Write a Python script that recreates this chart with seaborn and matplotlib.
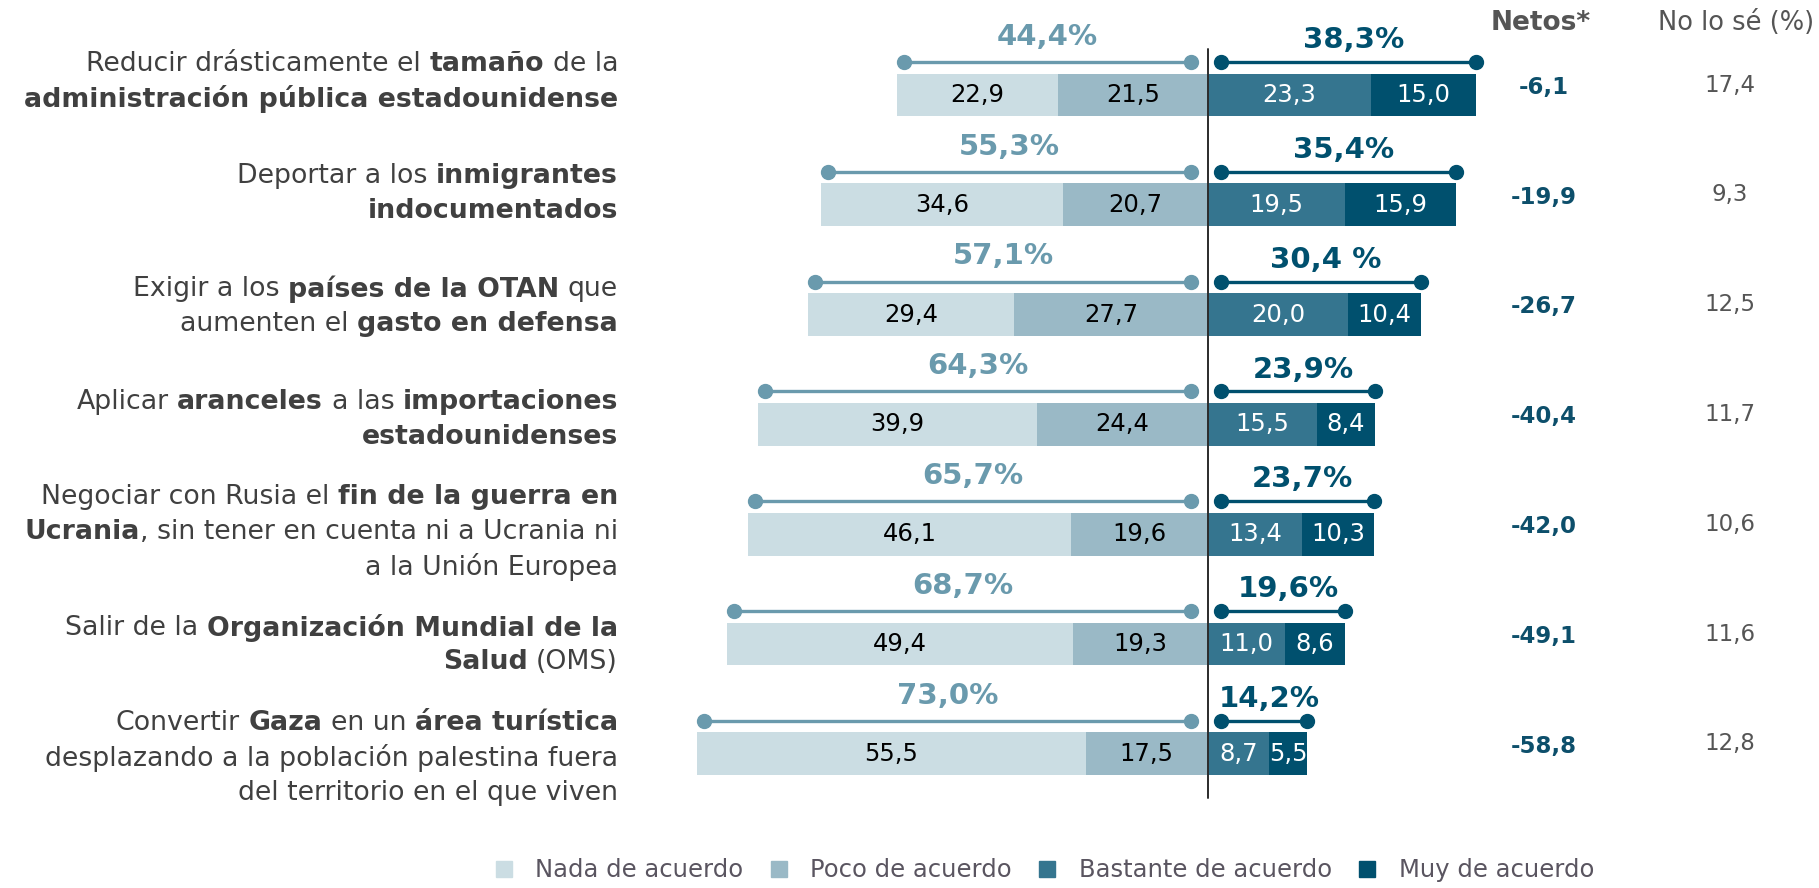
import matplotlib
matplotlib.use("Agg")
import matplotlib.pyplot as plt
import matplotlib.transforms as mtransforms
from matplotlib.lines import Line2D
import seaborn as sns
import pandas as pd

# data
claves = ["r0", "r1", "r2", "r3", "r4", "r5", "r6"]
nada = [22.9, 34.6, 29.4, 39.9, 46.1, 49.4, 55.5]
poco = [21.5, 20.7, 27.7, 24.4, 19.6, 19.3, 17.5]
bastante = [23.3, 19.5, 20.0, 15.5, 13.4, 11.0, 8.7]
muy = [15.0, 15.9, 10.4, 8.4, 10.3, 8.6, 5.5]
netos = [-6.1, -19.9, -26.7, -40.4, -42.0, -49.1, -58.8]
no_lo_se = [17.4, 9.3, 12.5, 11.7, 10.6, 11.6, 12.8]
desacuerdo_txt = ["44,4%", "55,3%", "57,1%", "64,3%", "65,7%", "68,7%", "73,0%"]
acuerdo_txt = ["38,3%", "35,4%", "30,4 %", "23,9%", "23,7%", "19,6%", "14,2%"]
leyenda = ["Nada de acuerdo", "Poco de acuerdo", "Bastante de acuerdo", "Muy de acuerdo"]

# (text, bold) pieces per line
etiquetas = [
    [[("Reducir drásticamente el ", 0), ("tamaño", 1), (" de la", 0)],
     [("administración pública estadounidense", 1)]],
    [[("Deportar a los ", 0), ("inmigrantes", 1)],
     [("indocumentados", 1)]],
    [[("Exigir a los ", 0), ("países de la OTAN", 1), (" que", 0)],
     [("aumenten el ", 0), ("gasto en defensa", 1)]],
    [[("Aplicar ", 0), ("aranceles", 1), (" a las ", 0), ("importaciones", 1)],
     [("estadounidenses", 1)]],
    [[("Negociar con Rusia el ", 0), ("fin de la guerra en", 1)],
     [("Ucrania", 1), (", sin tener en cuenta ni a Ucrania ni", 0)],
     [("a la Unión Europea", 0)]],
    [[("Salir de la ", 0), ("Organización Mundial de la", 1)],
     [("Salud", 1), (" (OMS)", 0)]],
    [[("Convertir ", 0), ("Gaza", 1), (" en un ", 0), ("área turística", 1)],
     [("desplazando a la población palestina fuera", 0)],
     [("del territorio en el que viven", 0)]],
]

c_nada = "#cbdde3"
c_poco = "#9ab9c6"
c_bast = "#35758f"
c_muy = "#00506e"
c_izq = "#6a9aad"
c_txt = "#404040"

df = pd.DataFrame({"clave": claves, "nada": nada, "poco": poco,
                   "bastante": bastante, "muy": muy})
df["izq"] = -(df["nada"] + df["poco"])
df["der"] = df["bastante"] + df["muy"]

sns.set_style("white")
plt.rcParams["font.family"] = ["DejaVu Sans"]

W, H, DPI = 1819, 888, 100
fig = plt.figure(figsize=(W / DPI, H / DPI), dpi=DPI)
ax = fig.add_axes([0, 0, 1, 1])

ancho = 0.39
sns.barplot(data=df, x="izq", y="clave", orient="h", color=c_nada, width=ancho,
            errorbar=None, linewidth=0, saturation=1, ax=ax)
sns.barplot(data=df, x=-df["poco"], y="clave", orient="h", color=c_poco, width=ancho,
            errorbar=None, linewidth=0, saturation=1, ax=ax)
sns.barplot(data=df, x="der", y="clave", orient="h", color=c_muy, width=ancho,
            errorbar=None, linewidth=0, saturation=1, ax=ax)
sns.barplot(data=df, x="bastante", y="clave", orient="h", color=c_bast, width=ancho,
            errorbar=None, linewidth=0, saturation=1, ax=ax)

# pixel layout: zero line at x=1208 px, 7 px per point, rows 109.8 px apart
pxu = 7.0
x0 = 1208
ax.set_xlim(-x0 / pxu, (W - x0) / pxu)
row = 109.8
top = 95
ax.set_ylim((H - top) / row, -top / row)
ax.axis("off")

ax.plot([0, 0], [-0.42, 6.40], color="#2b2b2b", lw=1.4, zorder=5)

fs_num = 17.5
for i in range(len(claves)):
    n, p, b, m = nada[i], poco[i], bastante[i], muy[i]
    ax.text(-(p + n / 2), i, f"{n:.1f}".replace(".", ","), ha="center", va="center",
            fontsize=fs_num, color="black")
    ax.text(-p / 2, i, f"{p:.1f}".replace(".", ","), ha="center", va="center",
            fontsize=fs_num, color="black")
    ax.text(b / 2, i, f"{b:.1f}".replace(".", ","), ha="center", va="center",
            fontsize=fs_num, color="white")
    ax.text(b + m / 2, i, f"{m:.1f}".replace(".", ","), ha="center", va="center",
            fontsize=fs_num, color="white")

    # whiskers
    yl = i - 0.3
    izq = n + p
    der = b + m
    ax.plot([-izq + 1, -2.4], [yl, yl], color=c_izq, lw=2.4, marker="o",
            markersize=10, zorder=4)
    ax.plot([1.9, der], [yl, yl], color=c_muy, lw=2.4, marker="o",
            markersize=10, zorder=4)
    ax.text((-izq + 1 - 2.4) / 2, i - 0.53, desacuerdo_txt[i], ha="center",
            va="center", fontsize=21, fontweight="bold", color=c_izq)
    ax.text((1.9 + der) / 2 + 0.7, i - 0.5, acuerdo_txt[i], ha="center",
            va="center", fontsize=21, fontweight="bold", color=c_muy)

    ax.text(48, i - 0.07, f"{netos[i]:.1f}".replace(".", ","), ha="center",
            va="center", fontsize=16.5, fontweight="bold", color="#0d4f6b")
    ax.text(74.5, i - 0.09, f"{no_lo_se[i]:.1f}".replace(".", ","), ha="center",
            va="center", fontsize=16.5, color="#555555")

ax.text(47.5, -0.66, "Netos*", ha="center", va="center", fontsize=19,
        fontweight="bold", color="#555555")
ax.text(75.5, -0.66, "No lo sé (%)", ha="center", va="center", fontsize=18.5,
        color="#555555")

# rich-text category labels, right aligned
fig.canvas.draw()
rend = fig.canvas.get_renderer()
fs_lab = 19.3


def ancho_px(s, bold):
    t = ax.text(0, 0, s, fontsize=fs_lab, fontweight="bold" if bold else "normal")
    w = t.get_window_extent(rend).width
    t.remove()
    return w


esp = {b: ancho_px("a a", b) - ancho_px("aa", b) for b in (0, 1)}


def ancho_seg(s, bold):
    w = ancho_px(s.strip(), bold)
    if s.startswith(" "):
        w += esp[bold]
    if s.endswith(" "):
        w += esp[bold]
    return w


x_lab = (618 - x0) / pxu
lin = 0.318
for i, lineas in enumerate(etiquetas):
    yc = i - 0.126 + 0.027 * i
    y_first = yc - lin * (len(lineas) - 1) / 2
    for k, segs in enumerate(lineas):
        y = y_first + k * lin
        off = 0
        for s, bold in reversed(segs):
            w = ancho_seg(s, bold)
            trail = esp[bold] if s.endswith(" ") else 0
            tr = mtransforms.offset_copy(ax.transData, fig=fig, x=-(off + trail) * 72 / DPI,
                                         y=0, units="points")
            ax.text(x_lab, y, s.strip(), transform=tr, ha="right", va="center",
                    fontsize=fs_lab, fontweight="bold" if bold else "normal",
                    color=c_txt)
            off += w

handles = [Line2D([], [], marker="s", linestyle="none", markersize=12, color=c)
           for c in (c_nada, c_poco, c_bast, c_muy)]
fig.legend(handles, leyenda, loc="lower center", bbox_to_anchor=(0.57, -0.018),
           ncol=4, frameon=False, fontsize=17.5, handletextpad=0.3, columnspacing=0.45,
           labelcolor="#5a5560")

fig.savefig("out.png", dpi=DPI)
